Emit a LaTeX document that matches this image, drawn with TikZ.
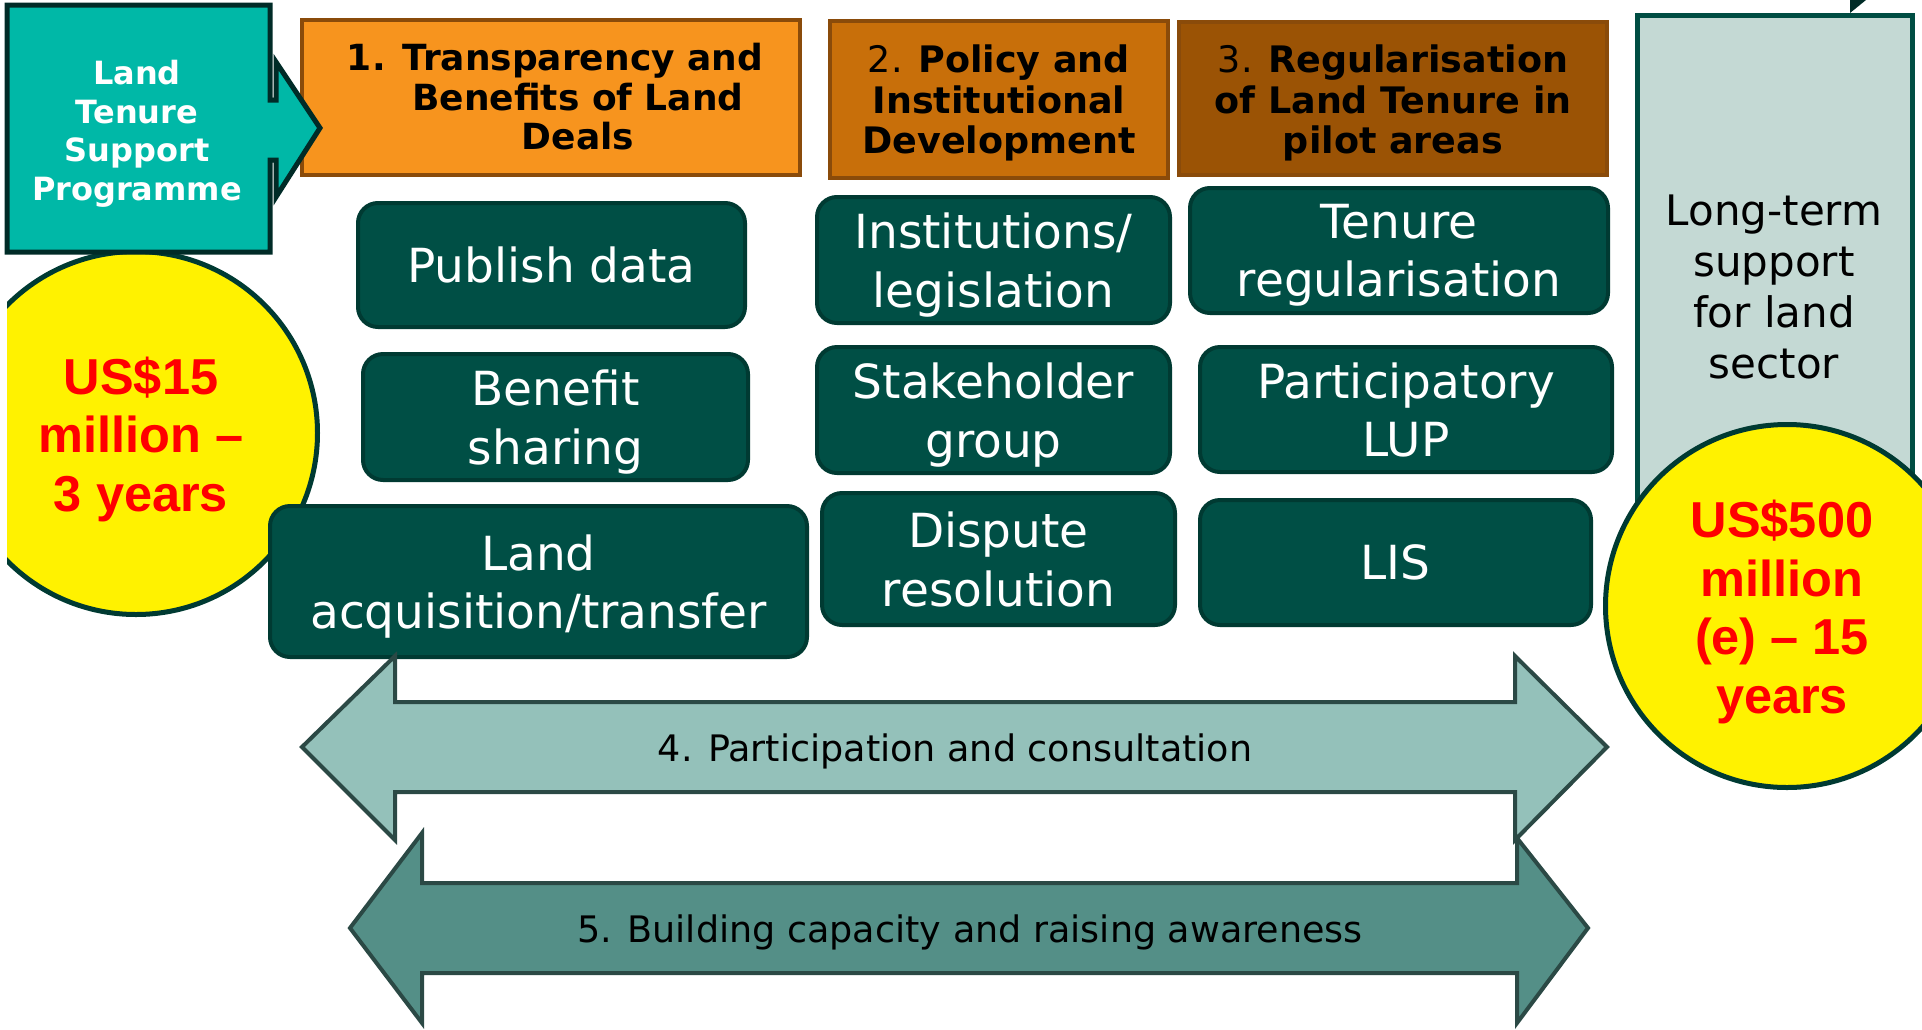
\documentclass[tikz,border=0pt]{standalone}
\usepackage{fontspec}
\setmainfont{DejaVu Sans}
\newfontfamily\arb{Liberation Sans}
\definecolor{tealfill}{HTML}{00B8A7}
\definecolor{tealborder}{HTML}{002B27}
\definecolor{orA}{HTML}{F7941E}
\definecolor{orB}{HTML}{C86F0A}
\definecolor{orC}{HTML}{9B5305}
\definecolor{hborder}{HTML}{8A4B0A}
\definecolor{gfill}{HTML}{004F45}
\definecolor{gborder}{HTML}{003A32}
\definecolor{grayfill}{HTML}{C4D9D4}
\definecolor{grayborder}{HTML}{004D43}
\definecolor{afourfill}{HTML}{94C1BA}
\definecolor{afivefill}{HTML}{548F87}
\definecolor{aborder}{HTML}{2B4945}
\begin{document}
\begin{tikzpicture}[x=1pt,y=-1pt,
  gbox/.style={draw=gborder, fill=gfill, line width=4pt, rounded corners=20pt, inner sep=0pt,
    align=center, text=white, text depth=-5pt, font=\fontsize{47}{58.5}\selectfont},
  hdr/.style={draw=hborder, line width=4pt, inner sep=0pt},
  hdrtext/.style={align=center, inner sep=0pt, font=\fontsize{36.5}{40.5}\selectfont},
  money/.style={align=center, inner sep=0pt, text=red, font=\arb\bfseries\fontsize{50.5}{58.5}\selectfont},
  coin/.style={circle, draw=gborder, fill=yellow, line width=5pt, inner sep=0pt, minimum size=363pt},
  bigarrow/.style={draw=aborder, line width=4pt, line join=miter},
  arrowtext/.style={inner sep=0pt, font=\fontsize{36.5}{40}\selectfont}
]
\useasboundingbox (0,0) rectangle (1922,1029);

% header boxes
\node[hdr, fill=orA, minimum width=498pt, minimum height=155pt] (h1) at (551,97.5) {};
\node[hdr, fill=orB, minimum width=338pt, minimum height=157pt] (h2) at (999,99.5) {};
\node[hdr, fill=orC, minimum width=428pt, minimum height=153pt] (h3) at (1393,98.5) {};
\node[hdrtext, font=\fontsize{36}{39.5}\selectfont\bfseries] (h1t) at (555,97) {1. Transparency and\\\hspace*{46pt}Benefits of Land\\\hspace*{46pt}Deals};
\node[hdrtext] (h2t) at (999,103) {2. \textbf{Policy and}\\\textbf{Institutional}\\\textbf{Development}};
\node[hdrtext] (h3t) at (1393,103) {3. \textbf{Regularisation}\\\textbf{of Land Tenure in}\\\textbf{pilot areas}};

% left circle (clipped at left)
\begin{scope}
\clip (7,0) rectangle (1922,1029);
\node[coin] (c1) at (136,433) {};
\end{scope}
\node[money] (c1t) at (141,439) {US\$15\\million –\\3 years};

% teal programme arrow box
\filldraw[fill=tealfill, draw=tealborder, line width=5pt, line join=miter]
  (7,5) -- (270,5) -- (270,100) -- (276,100) -- (276,62) -- (320,128) -- (276,197)
  -- (276,160) -- (270,160) -- (270,252) -- (7,252) -- cycle;
\node[align=center, inner sep=0pt, text=white, font=\bfseries\fontsize{32}{38.5}\selectfont] (ltsp) at (137,134)
  {Land\\Tenure\\Support\\Programme};

% activity boxes
\node[gbox, minimum width=387pt, minimum height=124pt] (pub) at (551.5,265) {Publish data};
\node[gbox, minimum width=385pt, minimum height=126pt] (ben) at (555.5,417) {Benefit\\sharing};
\node[gbox, minimum width=537pt, minimum height=151pt] (acq) at (538.5,581.5) {Land\\acquisition/transfer};
\node[gbox, minimum width=353pt, minimum height=126pt] (inst) at (993.5,260) {Institutions/\\legislation};
\node[gbox, minimum width=353pt, minimum height=126pt] (stake) at (993.5,410) {Stakeholder\\group};
\node[gbox, minimum width=353pt, minimum height=132pt] (disp) at (998.5,559) {Dispute\\resolution};
\node[gbox, minimum width=418pt, minimum height=125pt] (ten) at (1399,250.5) {Tenure\\regularisation};
\node[gbox, minimum width=412pt, minimum height=125pt] (lup) at (1406,409.5) {Participatory\\LUP};
\node[gbox, minimum width=391pt, minimum height=125pt] (lis) at (1395.5,562.5) {LIS};

% double arrows
\filldraw[bigarrow, fill=afourfill]
  (302,747) -- (395,656) -- (395,702) -- (1515,702) -- (1515,656) -- (1607,747)
  -- (1515,840) -- (1515,792) -- (395,792) -- (395,840) -- cycle;
\node[arrowtext] (a4) at (955,751) {4. Participation and consultation};
\filldraw[bigarrow, fill=afivefill]
  (350,928) -- (422,833) -- (422,883) -- (1517,883) -- (1517,838) -- (1588,928)
  -- (1517,1023) -- (1517,973) -- (422,973) -- (422,1023) -- cycle;
\node[arrowtext] (a5) at (970,932) {5. Building capacity and raising awareness};

% long-term support box
\filldraw[fill=grayfill, draw=grayborder, line width=5pt] (1637,15) rectangle (1912,560);
\node[align=center, inner sep=0pt, font=\fontsize{42}{51}\selectfont] (lts) at (1774,287)
  {Long-term\\support\\for land\\sector};

% right circle
\node[coin] (c2) at (1787,606) {};
\node[money] (c2t) at (1782,612) {US\$500\\million\\(e) – 15\\years};

% small corner mark
\fill[tealborder] (1850,0) -- (1866,0) -- (1850,13) -- cycle;
\end{tikzpicture}
\end{document}
